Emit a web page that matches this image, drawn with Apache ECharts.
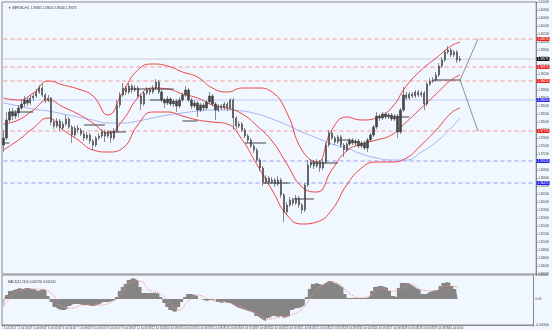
<!DOCTYPE html>
<html><head><meta charset="utf-8">
<script src="https://cdn.jsdelivr.net/npm/echarts@6/dist/echarts.min.js"></script>
<style>html,body{margin:0;padding:0;background:#f0f7fe}#c{width:552px;height:330px}</style>
</head><body><div id="c"></div><script>
// OHLC bars: [open, close, low, high]
const ohlc = [
[1.37425,1.3760,1.3725,1.3780],[1.3760,1.3805,1.3755,1.3825],[1.3805,1.3825,1.3800,1.3835],[1.3825,1.3815,1.3805,1.3835],
[1.3815,1.38225,1.38075,1.3830],[1.38225,1.3835,1.38125,1.38425],[1.3835,1.3845,1.3830,1.3855],[1.3845,1.3855,1.38375,1.3865],
[1.3855,1.38475,1.3840,1.38625],[1.38475,1.3860,1.38425,1.38675],[1.3860,1.3865,1.38525,1.38725],[1.3865,1.3875,1.3860,1.38825],
[1.3875,1.3885,1.3870,1.38925],[1.3885,1.38675,1.38625,1.3895],[1.38675,1.3855,1.38475,1.38725],[1.3855,1.3860,1.3850,1.38675],
[1.3860,1.3800,1.37925,1.38625],[1.3800,1.3790,1.37825,1.38075],[1.3790,1.38025,1.3785,1.3810],[1.38025,1.3785,1.37775,1.38075],
[1.3785,1.3795,1.3780,1.38025],[1.3795,1.38075,1.3790,1.38175],[1.38075,1.37875,1.37825,1.38125],[1.37875,1.37675,1.37475,1.37925],
[1.37675,1.3785,1.37625,1.3790],[1.3785,1.3780,1.37725,1.37925],[1.3780,1.3770,1.3765,1.3785],[1.3770,1.3760,1.37525,1.37775],
[1.3760,1.37675,1.3755,1.3775],[1.37675,1.37525,1.3745,1.37725],[1.37525,1.37425,1.3730,1.37575],[1.37425,1.3760,1.37375,1.3765],
[1.3760,1.3765,1.3755,1.37725],[1.3765,1.3775,1.3760,1.37825],[1.3775,1.3765,1.3750,1.3780],[1.3765,1.37725,1.3760,1.3780],
[1.37725,1.3760,1.37475,1.37775],[1.3760,1.37775,1.3755,1.3785],[1.37775,1.38425,1.37725,1.3855],[1.38425,1.38675,1.3835,1.3875],
[1.38675,1.3885,1.38625,1.38975],[1.3885,1.3875,1.38675,1.3890],[1.3875,1.3890,1.3870,1.38975],[1.3890,1.3880,1.38725,1.3895],
[1.3880,1.3885,1.3875,1.38925],[1.3885,1.3865,1.3860,1.3890],[1.3865,1.3845,1.3830,1.3870],[1.3845,1.38725,1.3840,1.38775],
[1.38725,1.3880,1.38675,1.38875],[1.3880,1.3875,1.38675,1.3885],[1.3875,1.3885,1.3870,1.38925],[1.3885,1.3900,1.3880,1.39075],
[1.3900,1.3875,1.3870,1.3905],[1.3875,1.3855,1.3850,1.3880],[1.3855,1.38475,1.3835,1.3860],[1.38475,1.38575,1.38425,1.3865],
[1.38575,1.3845,1.3840,1.38625],[1.3845,1.38525,1.38375,1.38575],[1.38525,1.3840,1.3825,1.38575],[1.3840,1.3855,1.3835,1.38625],
[1.3855,1.38675,1.3850,1.38725],[1.38675,1.3880,1.38625,1.3890],[1.3880,1.3855,1.3850,1.3885],[1.3855,1.3840,1.38325,1.3860],
[1.3840,1.38475,1.3835,1.3855],[1.38475,1.3830,1.38125,1.38525],[1.3830,1.38425,1.3825,1.38475],[1.38425,1.3835,1.38275,1.38475],
[1.3835,1.3850,1.3830,1.3855],[1.3850,1.3865,1.3845,1.3875],[1.3865,1.3845,1.3840,1.3870],[1.3845,1.3830,1.3805,1.3850],
[1.3830,1.3840,1.3825,1.3845],[1.3840,1.3835,1.3830,1.3845],[1.3835,1.3845,1.3830,1.3850],[1.3845,1.3835,1.38275,1.3850],
[1.3835,1.3855,1.3830,1.3860],[1.3855,1.3810,1.3780,1.3860],[1.3810,1.3790,1.37825,1.3815],[1.3790,1.3795,1.3785,1.38025],
[1.3795,1.3780,1.3775,1.3800],[1.3780,1.3765,1.3760,1.3785],[1.3765,1.3755,1.37475,1.3770],[1.3755,1.3740,1.3735,1.3760],
[1.3740,1.3730,1.37225,1.3745],[1.3730,1.3705,1.3700,1.3735],[1.3705,1.3685,1.36775,1.3710],[1.3685,1.3650,1.3640,1.3690],
[1.3650,1.3660,1.3645,1.36675],[1.3660,1.3650,1.36425,1.3665],[1.3650,1.3655,1.3645,1.36625],[1.3655,1.3645,1.36375,1.3660],
[1.3645,1.3655,1.3640,1.3665],[1.3655,1.36175,1.3610,1.3660],[1.36175,1.3575,1.3550,1.36225],[1.3575,1.35925,1.35675,1.3600],
[1.35925,1.3605,1.35875,1.36125],[1.3605,1.35975,1.3590,1.3610],[1.35975,1.3610,1.35925,1.36175],[1.3610,1.35925,1.3585,1.3615],
[1.35925,1.3580,1.3570,1.35975],[1.3580,1.36425,1.3575,1.36475],[1.36425,1.36925,1.36375,1.3705],[1.36925,1.3700,1.3685,1.37075],
[1.3700,1.3690,1.36825,1.3705],[1.3690,1.3700,1.3685,1.37075],[1.3700,1.3685,1.3675,1.3705],[1.3685,1.3700,1.3680,1.37075],
[1.3700,1.37425,1.3695,1.37475],[1.37425,1.37725,1.37375,1.3780],[1.37725,1.3760,1.3755,1.37775],[1.3760,1.3750,1.37425,1.3765],
[1.3750,1.37625,1.3745,1.37675],[1.37625,1.37425,1.3735,1.37675],[1.37425,1.3730,1.37125,1.37475],[1.3730,1.3745,1.3725,1.3750],
[1.3745,1.3755,1.3740,1.3760],[1.3755,1.37475,1.37425,1.3760],[1.37475,1.37525,1.3740,1.37575],[1.37525,1.3740,1.3735,1.37575],
[1.3740,1.37475,1.3735,1.37525],[1.37475,1.3735,1.3730,1.37525],[1.3735,1.3755,1.3725,1.3760],[1.3755,1.37675,1.3750,1.37725],
[1.37675,1.37875,1.37625,1.37925],[1.37875,1.3815,1.37825,1.3825],[1.3815,1.3810,1.38025,1.3820],[1.3810,1.3820,1.3805,1.3825],
[1.3820,1.38125,1.38075,1.3825],[1.38125,1.38175,1.38075,1.38225],[1.38175,1.38075,1.38025,1.38225],[1.38075,1.3815,1.38025,1.3820],
[1.3815,1.3775,1.3760,1.3820],[1.3775,1.3830,1.3770,1.3835],[1.3830,1.38675,1.3825,1.38875],[1.38675,1.3860,1.3855,1.3875],
[1.3860,1.3870,1.3855,1.3875],[1.3870,1.3865,1.3860,1.3875],[1.3865,1.3875,1.3860,1.3880],[1.3875,1.38675,1.38625,1.3880],
[1.38675,1.38725,1.38625,1.38775],[1.38725,1.3845,1.3830,1.38775],[1.3845,1.3895,1.3840,1.3900],[1.3895,1.39025,1.3890,1.3910],
[1.39025,1.3905,1.38975,1.39125],[1.3905,1.39175,1.3900,1.3925],[1.39175,1.3940,1.39125,1.39475],[1.3940,1.3955,1.3935,1.39625],
[1.3955,1.3975,1.3950,1.3980],[1.3975,1.3980,1.3970,1.3990],[1.3980,1.39675,1.39625,1.3985],[1.39675,1.3975,1.39625,1.3980],
[1.3975,1.3955,1.39475,1.3980],[1.3955,1.39575,1.3950,1.3965]
];
const futureBars = 25;
const timeLabels = ['2 Jul 2021','2 Jul 16:00','5 Jul 08:00','6 Jul 00:00','6 Jul 16:00','7 Jul 08:00','8 Jul 00:00','8 Jul 16:00','9 Jul 08:00','12 Jul 00:00','12 Jul 16:00','13 Jul 08:00','14 Jul 00:00','14 Jul 16:00','15 Jul 08:00','16 Jul 00:00','16 Jul 16:00','19 Jul 08:00','20 Jul 00:00','20 Jul 16:00','21 Jul 08:00','22 Jul 00:00','22 Jul 16:00','23 Jul 08:00','26 Jul 00:00','26 Jul 16:00','27 Jul 08:00','28 Jul 00:00','28 Jul 16:00','29 Jul 08:00','30 Jul 00:00'];
const labelEvery = 5;
// Bollinger bands and slow MA, sampled [barIndex, price]
const bbUpper = [[0,1.386],[5,1.3855],[10,1.38725],[15,1.39025],[20,1.38925],[25,1.38825],[30,1.3865],[35,1.38175],[40,1.3875],[45,1.393],[50,1.3945],[55,1.394],[60,1.3925],[65,1.39125],[70,1.3885],[75,1.3875],[80,1.3885],[85,1.3885],[90,1.3875],[95,1.38225],[100,1.373],[105,1.370],[110,1.378],[115,1.38125],[120,1.3805],[125,1.381],[130,1.3835],[135,1.389],[140,1.393],[145,1.396],[150,1.399],[153,1.400]];
const bbMiddle = [[0,1.3795],[5,1.3805],[10,1.383],[15,1.3855],[20,1.38375],[25,1.382],[30,1.37975],[35,1.37725],[40,1.3805],[45,1.386],[50,1.3885],[55,1.38825],[60,1.387],[65,1.386],[70,1.38425],[75,1.3835],[80,1.382],[85,1.379],[90,1.37525],[95,1.3695],[100,1.36375],[105,1.3625],[110,1.368],[115,1.37275],[120,1.3745],[125,1.3755],[130,1.37675],[135,1.380],[140,1.3835],[145,1.387],[150,1.3905],[153,1.39175]];
const bbLower = [[0,1.373],[5,1.3755],[10,1.3785],[15,1.381],[20,1.378],[25,1.3755],[30,1.373],[35,1.3725],[40,1.3735],[45,1.37925],[50,1.3825],[55,1.3825],[60,1.3815],[65,1.3805],[70,1.380],[75,1.3795],[80,1.3755],[85,1.36925],[90,1.363],[95,1.35675],[100,1.3545],[105,1.355],[110,1.358],[115,1.36425],[120,1.3685],[125,1.370],[130,1.370],[135,1.371],[140,1.37425],[145,1.378],[150,1.38225],[153,1.3835]];
const slowMA = [[0,1.38475],[5,1.384],[10,1.38325],[15,1.38275],[20,1.382],[25,1.38125],[30,1.3805],[35,1.37975],[40,1.37975],[45,1.38025],[50,1.381],[55,1.38175],[60,1.38225],[65,1.38275],[70,1.383],[75,1.383],[80,1.38275],[85,1.382],[90,1.38075],[95,1.37925],[100,1.3775],[105,1.376],[110,1.3745],[115,1.3735],[120,1.372],[125,1.371],[130,1.3705],[135,1.3705],[140,1.3725],[145,1.375],[150,1.3785],[153,1.381]];
// short horizontal level segments [fromBar, toBar, price]
const levels = [[0,2,1.37475],[2,10,1.3825],[27,34,1.37925],[35,41,1.3775],[42,57,1.38825],[49,56,1.3855],[60,65,1.38025],[81,88,1.37475],[87,96,1.36475],[97,104,1.36075],[103,112,1.36975],[112,116,1.3755],[132,136,1.38125],[144,153,1.3905]];
const redLines = [1.40075, 1.39375, 1.39025, 1.37775];
const blueDashed = [1.37025, 1.36475];
const blueSolid = [1.3855];
const lastPrice = 1.39575;
const projection = [[[153,1.3905],[159,1.40075]],[[153,1.3905],[159,1.37775]]];
const titleText = '\u25BC GBPUSD,H1  1.39585 1.39620 1.39540 1.39575';
// MACD histogram & signal
const macdHist = [-0.0009,0.0004,0.0008,0.0009,0.0010,0.0011,0.0010,0.0011,0.0011,0.0010,0.0010,0.0008,0.0009,0.0010,0.0008,0.0003,
-0.0003,-0.0008,-0.0010,-0.0011,-0.0011,-0.0010,-0.0007,-0.0005,-0.0005,-0.0005,-0.0006,-0.0006,-0.0006,-0.0007,-0.0007,-0.0006,
-0.0005,-0.0003,-0.0003,-0.0003,-0.0002,-0.0001,0.0002,0.0008,0.0012,0.0015,0.0019,0.0021,0.0020,0.0018,0.0012,0.0006,
0.0006,0.0006,0.0006,0.0006,0.0005,0.0002,-0.0004,-0.0008,-0.0011,-0.0013,-0.0012,-0.0008,-0.0003,0.0002,0.0005,0.0005,
0.0004,0.0003,0.0000,-0.0001,-0.0002,-0.0001,-0.0001,0.0000,-0.0003,-0.0004,-0.0003,-0.0004,-0.0004,-0.0006,-0.0008,-0.0009,
-0.0010,-0.0011,-0.0012,-0.0013,-0.0014,-0.0017,-0.0019,-0.0021,-0.0022,-0.0019,-0.0017,-0.0017,-0.0018,-0.0017,-0.0019,-0.0018,
-0.0017,-0.0011,-0.0009,-0.0009,-0.0008,-0.0006,0.0002,0.0010,0.0015,0.0016,0.0015,0.0014,0.0016,0.0018,0.0018,0.0016,
0.0015,0.0013,0.0011,0.0005,0.0001,0.0001,0.0001,0.0001,0.0001,0.0001,0.0001,0.0003,0.0008,0.0012,0.0013,0.0013,
0.0012,0.0011,0.0008,0.0003,0.0002,0.0011,0.0016,0.0016,0.0016,0.0014,0.0012,0.0010,0.0009,0.0005,0.0005,0.0007,
0.0008,0.0009,0.0009,0.0013,0.0016,0.0017,0.0016,0.0013,0.0010,0.0007];
const macdSignal = [[0,-0.0008],[3,0.0004],[6,0.0009],[10,0.0010],[14,0.0009],[17,0.0003],[20,-0.0008],[23,-0.0009],[27,-0.0006],[32,-0.0006],[37,-0.0002],[40,0.0006],[43,0.0017],[46,0.0018],[49,0.0009],[53,0.0005],[56,-0.0004],[59,-0.0011],[62,-0.0003],[65,0.0004],[70,-0.0001],[75,-0.0003],[80,-0.0008],[85,-0.0014],[89,-0.0020],[93,-0.0018],[97,-0.0016],[101,-0.0009],[104,0.0004],[107,0.0013],[110,0.0017],[113,0.0015],[116,0.0007],[120,0.0001],[124,0.0004],[127,0.0011],[131,0.0008],[134,0.0010],[137,0.0015],[141,0.0009],[145,0.0008],[149,0.0013],[153,0.0012]];
const macdTitle = 'MACD(12,26,9) 0.000700 0.001200';
const macdMin = -0.0026, macdMax = 0.0024;

const categories = [];
for (let i = 0; i < ohlc.length + futureBars; i++) {
  categories.push(i % labelEvery === 0 && timeLabels[i / labelEvery] ? timeLabels[i / labelEvery] : '');
}
const lastIdx = categories.length - 1;
const FONT = 'Liberation Sans';
const chart = echarts.init(document.getElementById('c'), null, {renderer:'canvas'});

function hLineSeries(v, color, type, bg){
  return {type:'line', data:[[0,v],[lastIdx,v]], symbol:'none', silent:true, z:1,
    lineStyle:{color:color, type:type, width:1},
    endLabel:{show:true, distance:2, formatter:()=>v.toFixed(5), backgroundColor:bg, color:'#fff',
      fontSize:3, fontFamily:FONT, padding:[0.5,1]}};
}

const series = [];
redLines.forEach(v=>series.push(hLineSeries(v,'#f29a9a',[4,3],'#ee2020')));
blueDashed.forEach(v=>series.push(hLineSeries(v,'#9a9af2',[4,3],'#2020ee')));
blueSolid.forEach(v=>series.push(hLineSeries(v,'#c4cbf6','solid','#2a2ae8')));
series.push(hLineSeries(lastPrice,'#c9ccd4','solid','#111'));
series.push(
  {type:'line', data:slowMA, smooth:true, symbol:'none', lineStyle:{color:'#a9b1f3', width:1}, z:2},
  {type:'line', data:bbUpper, smooth:true, symbol:'none', lineStyle:{color:'#ee4545', width:1}, z:3},
  {type:'line', data:bbMiddle, smooth:true, symbol:'none', lineStyle:{color:'#ee4545', width:1}, z:3},
  {type:'line', data:bbLower, smooth:true, symbol:'none', lineStyle:{color:'#ee4545', width:1}, z:3},
  {type:'candlestick', data:ohlc, barWidth:1.8, z:4,
   itemStyle:{color:'#444', color0:'#444', borderColor:'#444', borderColor0:'#444', borderWidth:0.6}}
);
levels.forEach(l=>series.push({type:'line', data:[[l[0],l[2]],[l[1],l[2]]], symbol:'none', lineStyle:{color:'#444', width:1}, z:5}));
projection.forEach(p=>series.push({type:'line', data:p, symbol:'none', lineStyle:{color:'#8f8f8f', width:1}, z:5}));
series.push({type:'line', xAxisIndex:1, yAxisIndex:1, data:macdHist, symbol:'none', step:'middle',
  lineStyle:{width:0}, areaStyle:{color:'#858585', opacity:1, origin:0}, z:2});
series.push({type:'line', xAxisIndex:1, yAxisIndex:1, data:macdSignal, smooth:true, symbol:'none', lineStyle:{color:'#f08a8a', width:1, type:'dotted'}, z:3});

chart.setOption({
  animation:false,
  backgroundColor:'#f0f7fe',
  textStyle:{fontFamily:FONT},
  title:[
    {text:titleText, left:3, top:2, textStyle:{fontSize:3, color:'#333', fontWeight:'normal', fontFamily:FONT}},
    {text:macdTitle, left:3, top:276, textStyle:{fontSize:3, color:'#333', fontWeight:'normal', fontFamily:FONT}}
  ],
  grid:[
    {left:2, top:2, width:537, height:272, show:true, borderColor:'#8a8a8a', borderWidth:1},
    {left:2, top:275, width:537, height:50, show:true, borderColor:'#8a8a8a', borderWidth:1}
  ],
  xAxis:[
    {type:'category', gridIndex:0, data:categories, boundaryGap:true, axisLine:{show:false}, axisTick:{show:false}, axisLabel:{show:false}, splitLine:{show:false}},
    {type:'category', gridIndex:1, data:categories, boundaryGap:true,
     axisLine:{show:true, onZero:false, lineStyle:{color:'#8a8a8a'}},
     axisTick:{show:true, length:1.5, interval:(i)=>categories[i]!=='', lineStyle:{color:'#777'}},
     axisLabel:{show:true, interval:0, fontSize:2.7, color:'#444', margin:1.5, align:'left', fontFamily:FONT}, splitLine:{show:false}}
  ],
  yAxis:[
    {type:'value', gridIndex:0, position:'right', min:1.342, max:1.410, interval:0.002,
     axisLine:{show:true, lineStyle:{color:'#8a8a8a'}}, axisTick:{show:true, length:1.5, lineStyle:{color:'#777'}},
     axisLabel:{fontSize:3, color:'#444', margin:2, fontFamily:FONT, formatter:v=>v.toFixed(5)}, splitLine:{show:false}},
    {type:'value', gridIndex:1, position:'right', min:macdMin, max:macdMax,
     axisLine:{show:true, lineStyle:{color:'#8a8a8a'}}, axisTick:{show:false},
     axisLabel:{fontSize:3, color:'#444', margin:2, fontFamily:FONT, customValues:[macdMin,0,macdMax],
       formatter:v=>Math.abs(v)<1e-9?'0.00':v.toFixed(6)}, splitLine:{show:false}}
  ],
  series:series
});
</script></body></html>
